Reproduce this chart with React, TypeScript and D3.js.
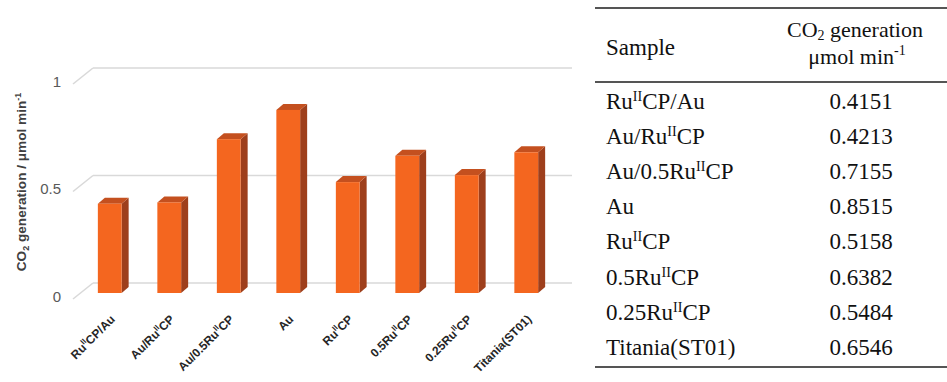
import React from "react";
import * as d3 from "d3";

// Photocatalytic CO2 generation per sample (μmol min^-1); "^" toggles superscript
const samples = [
  "Ru^II^CP/Au",
  "Au/Ru^II^CP",
  "Au/0.5Ru^II^CP",
  "Au",
  "Ru^II^CP",
  "0.5Ru^II^CP",
  "0.25Ru^II^CP",
  "Titania(ST01)",
];
const co2Rates = [0.4151, 0.4213, 0.7155, 0.8515, 0.5158, 0.6382, 0.5484, 0.6546];
const rateLabels = ["0.4151", "0.4213", "0.7155", "0.8515", "0.5158", "0.6382", "0.5484", "0.6546"];
const yTicks = [0, 0.5, 1];
const yTickLabels = ["0", "0.5", "1"];

const W = 947;
const H = 382;

const FRONT = "#F4661F";
const TOP = "#C4501F";
const SIDE = "#9E3F1C";
const GRID = "#D9D9D9";

// bar depth offsets (3D look)
const DX = 7;
const DY = -6;

function Rich({ text, supSize, supDy }: { text: string; supSize: number; supDy: number }) {
  const parts = text.split("^");
  return (
    <>
      {parts.map((p, i) =>
        i % 2 === 1 ? (
          <tspan key={i} fontSize={supSize} dy={-supDy}>
            {p}
          </tspan>
        ) : (
          <tspan key={i} dy={i > 0 ? supDy : 0}>
            {p}
          </tspan>
        )
      )}
    </>
  );
}

export default function App() {
  const x = d3.scaleBand<string>().domain(samples).range([80, 556]).padding(0);
  const y = d3.scaleLinear().domain([0, 1]).range([293, 78]);
  const bw = x.step() * 0.4;

  const rowY = d3.scaleLinear().domain([0, 1]).range([109, 144.1]);

  return (
    <svg
      width={W}
      height={H}
      style={{ position: "absolute", left: 0, top: 0, background: "#fff" }}
    >
      {/* back-wall gridlines with floor perspective */}
      {yTicks.map((t) => (
        <g key={t}>
          <line x1={73} y1={y(t) + 6} x2={93} y2={y(t) - 10} stroke={GRID} strokeWidth={1.6} />
          <line x1={93} y1={y(t) - 10} x2={572} y2={y(t) - 10} stroke={GRID} strokeWidth={1.6} />
        </g>
      ))}
      {yTicks.map((t, i) => (
        <text
          key={t}
          x={61}
          y={y(t) + 5}
          textAnchor="end"
          dominantBaseline="middle"
          fontFamily="Liberation Sans, Arial, sans-serif"
          fontSize={15}
          fill="#595959"
        >
          {yTickLabels[i]}
        </text>
      ))}

      {/* y-axis title */}
      <text
        transform="translate(26,182) rotate(-90)"
        textAnchor="middle"
        fontFamily="Liberation Sans, Arial, sans-serif"
        fontWeight="bold"
        fontSize={13.6}
        fill="#404040"
      >
        CO
        <tspan fontSize={9} dy={3}>2</tspan>
        <tspan dy={-3}> generation / μmol min</tspan>
        <tspan fontSize={9} dy={-5}>-1</tspan>
      </text>

      {/* 3D bars */}
      {samples.map((s, i) => {
        const x0 = (x(s) as number) + (x.step() - bw) / 2;
        const x1 = x0 + bw;
        const yt = y(co2Rates[i]);
        const yb = y(0);
        return (
          <g key={s}>
            <polygon
              points={`${x1},${yt} ${x1 + DX},${yt + DY} ${x1 + DX},${yb + DY} ${x1},${yb}`}
              fill={SIDE}
            />
            <polygon
              points={`${x0},${yt} ${x0 + DX},${yt + DY} ${x1 + DX},${yt + DY} ${x1},${yt}`}
              fill={TOP}
            />
            <rect x={x0} y={yt} width={bw} height={yb - yt} fill={FRONT} />
          </g>
        );
      })}

      {/* category labels */}
      {samples.map((s) => {
        const cx = (x(s) as number) + x.step() / 2;
        return (
          <text
            key={s}
            transform={`translate(${cx + 6},320) rotate(-45)`}
            textAnchor="end"
            fontFamily="Liberation Sans, Arial, sans-serif"
            fontWeight="bold"
            fontSize={12}
            fill="#262626"
          >
            <Rich text={s} supSize={8} supDy={5} />
          </text>
        );
      })}

      {/* data table */}
      <g fontFamily="Liberation Serif, Times New Roman, serif" fill="#111">
        <line x1={595} y1={8} x2={947} y2={8} stroke="#555" strokeWidth={2} />
        <line x1={595} y1={82} x2={947} y2={82} stroke="#555" strokeWidth={2} />
        <line x1={595} y1={367} x2={947} y2={367} stroke="#555" strokeWidth={2} />
        <text x={606} y={55} fontSize={23}>
          Sample
        </text>
        <text x={855} y={37} fontSize={22} textAnchor="middle">
          CO<tspan fontSize={14} dy={3}>2</tspan>
          <tspan dy={-3}> generation</tspan>
        </text>
        <text x={857} y={64} fontSize={22} textAnchor="middle">
          μmol min<tspan fontSize={14} dy={-9}>-1</tspan>
        </text>
        {samples.map((s, i) => (
          <g key={s}>
            <text x={606} y={rowY(i)} fontSize={23}>
              <Rich text={s} supSize={14} supDy={8} />
            </text>
            <text x={861} y={rowY(i)} fontSize={23} textAnchor="middle">
              {rateLabels[i]}
            </text>
          </g>
        ))}
      </g>
    </svg>
  );
}
